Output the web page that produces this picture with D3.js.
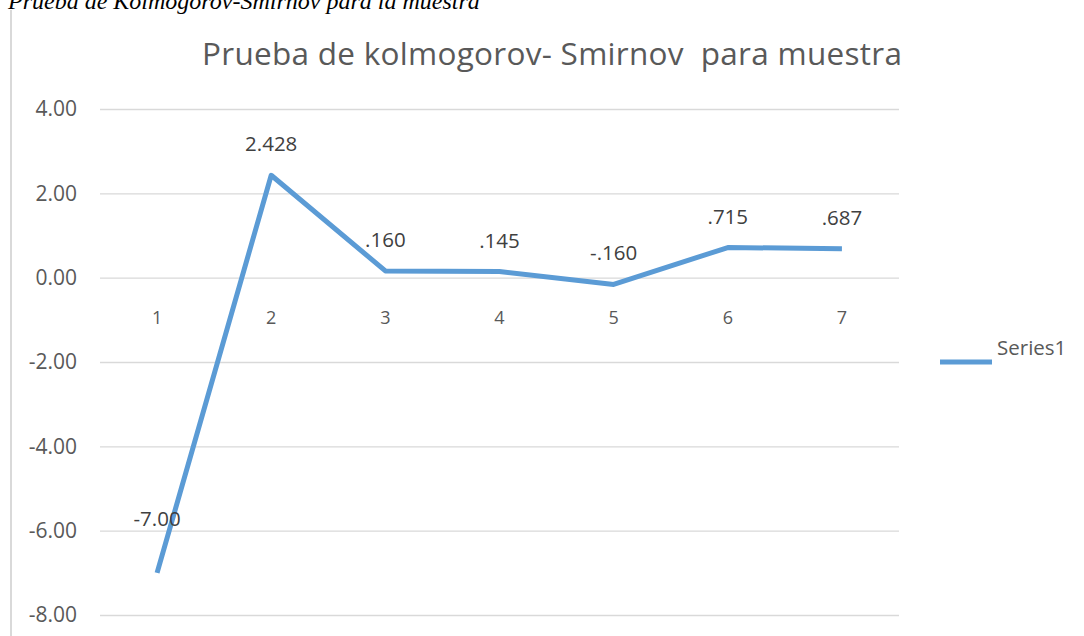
<!DOCTYPE html>
<html>
<head>
<meta charset="utf-8">
<script src="https://cdn.jsdelivr.net/npm/d3@7"></script>
<style>
  body { margin: 0; background: #fff; }
  svg { display: block; }
</style>
</head>
<body>
<div id="chart"></div>
<script>
// data
const categories = ['1', '2', '3', '4', '5', '6', '7'];
const values = [-7.00, 2.428, 0.160, 0.145, -0.160, 0.715, 0.687];
const valueLabels = ['-7.00', '2.428', '.160', '.145', '-.160', '.715', '.687'];
const yTicks = [4, 2, 0, -2, -4, -6, -8];
const seriesName = 'Series1';

const W = 1084, H = 636;
const svg = d3.select('#chart').append('svg')
    .attr('width', W)
    .attr('height', H);

const font = '"Open Sans", Lato, sans-serif';
const grey = '#595959';
const blue = '#5b9bd5';

// caption above the chart (cut off at top in the source)
svg.append('text')
    .attr('x', 8)
    .attr('y', 9)
    .attr('font-family', '"Liberation Serif", "Times New Roman", serif')
    .attr('font-style', 'italic')
    .attr('font-size', 24)
    .attr('fill', '#000')
    .text('Prueba de Kolmogorov-Smirnov para la muestra');

// left border of the chart area
svg.append('line')
    .attr('x1', 11).attr('x2', 11)
    .attr('y1', 10).attr('y2', H)
    .attr('stroke', '#d9d9d9')
    .attr('stroke-width', 2);

const margin = { left: 100, right: 185, top: 109, bottom: 21 };
const x = d3.scaleBand()
    .domain(categories)
    .range([margin.left, W - margin.right]);

const y = d3.scaleLinear()
    .domain([-8, 4])
    .range([H - margin.bottom, margin.top]);

// title
svg.append('text')
    .attr('x', 202)
    .attr('y', 65)
    .attr('font-family', font)
    .attr('font-size', 31.5)
    .attr('fill', grey)
    .attr('textLength', 700)
    .attr('lengthAdjust', 'spacing')
    .attr('xml:space', 'preserve')
    .text('Prueba de kolmogorov- Smirnov  para muestra');

// gridlines + y labels
const yAxis = svg.append('g')
    .attr('transform', `translate(${margin.left},0)`)
    .call(d3.axisLeft(y)
        .tickValues(yTicks)
        .tickSize(-(W - margin.left - margin.right))
        .tickPadding(23)
        .tickFormat(d => d.toFixed(2)));
yAxis.select('.domain').remove();
yAxis.selectAll('.tick line')
    .attr('stroke', '#d9d9d9')
    .attr('stroke-width', 1.3);
yAxis.selectAll('.tick text')
    .attr('font-family', font)
    .attr('font-size', 21)
    .attr('fill', grey);

// category labels sit just under the zero line
const xAxis = svg.append('g')
    .attr('transform', `translate(0,${y(0)})`)
    .call(d3.axisBottom(x).tickSize(0).tickPadding(0));
xAxis.select('.domain').remove();
xAxis.selectAll('.tick text')
    .attr('dy', null)
    .attr('y', 46)
    .attr('font-family', font)
    .attr('font-size', 18)
    .attr('fill', grey);

const cx = d => x(d) + x.bandwidth() / 2;

// the series line
const line = d3.line()
    .x((d, i) => cx(categories[i]))
    .y(d => y(d));

svg.append('path')
    .datum(values)
    .attr('d', line)
    .attr('fill', 'none')
    .attr('stroke', blue)
    .attr('stroke-width', 5)
    .attr('stroke-linejoin', 'round');

// data labels above each point (the first one was dragged a bit higher)
svg.selectAll('.data-label')
    .data(values)
    .enter()
    .append('text')
    .attr('class', 'data-label')
    .attr('x', (d, i) => cx(categories[i]))
    .attr('y', (d, i) => y(d) - (i === 0 ? 47 : 24))
    .attr('text-anchor', 'middle')
    .attr('font-family', font)
    .attr('font-size', 20.5)
    .attr('fill', '#404040')
    .text((d, i) => valueLabels[i]);

// legend
svg.append('line')
    .attr('x1', 940).attr('x2', 992)
    .attr('y1', 362).attr('y2', 362)
    .attr('stroke', blue)
    .attr('stroke-width', 5);
svg.append('text')
    .attr('x', 997)
    .attr('y', 355)
    .attr('font-family', font)
    .attr('font-size', 20.5)
    .attr('fill', grey)
    .text(seriesName);
</script>
</body>
</html>
